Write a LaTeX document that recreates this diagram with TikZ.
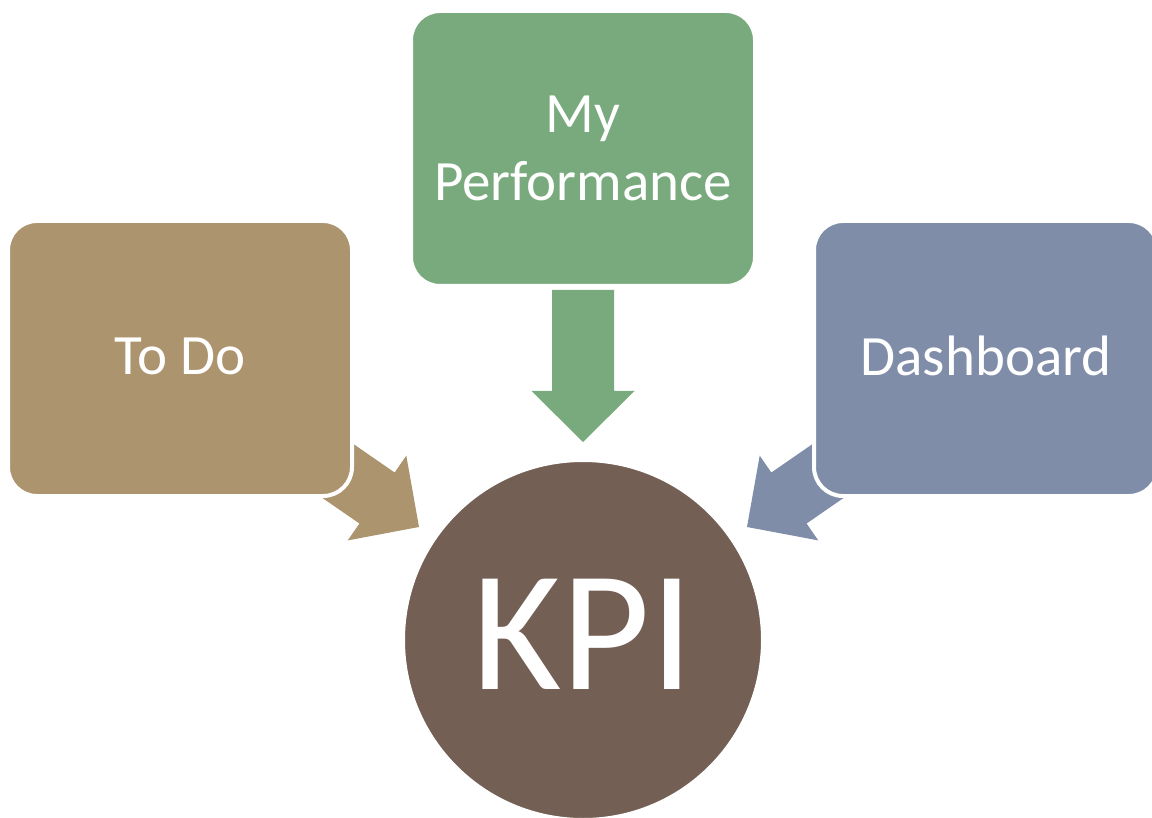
\documentclass[tikz,border=0pt]{standalone}
\usepackage{fontspec}
\setmainfont{Carlito}
\usetikzlibrary{calc}
\definecolor{todoc}{HTML}{AC946E}
\definecolor{perfc}{HTML}{79AA7D}
\definecolor{dashc}{HTML}{7F8DA9}
\definecolor{kpic}{HTML}{735F54}
% block arrow: colour, tail coordinate, tip coordinate
\newcommand\blockarr[3]{%
  \coordinate (#2-h) at ($(#3)!51pt!(#2)$);
  \fill[#1] ($(#2)!31pt!90:(#3)$) -- ($(#2-h)!31pt!90:(#3)$)
    -- ($(#2-h)!51.5pt!90:(#3)$) -- (#3)
    -- ($(#2-h)!51.5pt!-90:(#3)$) -- ($(#2-h)!31pt!-90:(#3)$)
    -- ($(#2)!31pt!-90:(#3)$) -- cycle;}
\tikzset{
  box/.style={rectangle, rounded corners=29pt, draw=white, line width=4pt,
    minimum width=344pt, minimum height=275pt, inner sep=0pt, align=center,
    text=white, font=\fontsize{57}{68}\selectfont},
  kpibox/.style={circle, draw=white, line width=4pt, minimum size=360pt,
    inner sep=0pt, fill=kpic, text=white, font=\fontsize{172}{180}\selectfont}
}
\begin{document}
\begin{tikzpicture}[x=1pt,y=-1pt]
\useasboundingbox (0,0) rectangle (1152,818);
\clip (0,0) rectangle (1152,818);
% arrow end points
\coordinate (ta) at (293.9,440.6);
\coordinate (tt) at (419,527);
\coordinate (pa) at (583,290);
\coordinate (pt) at (583,442);
\coordinate (da) at (872.1,440.6);
\coordinate (dt) at (747,527);
\blockarr{todoc}{ta}{tt}
\blockarr{perfc}{pa}{pt}
\blockarr{dashc}{da}{dt}
% boxes
\node[box, fill=todoc] (todo) at (180,358.5) {\raisebox{2.5pt}[\height][\depth]{To Do}};
\node[box, fill=perfc] (perf) at (583,148.5) {My\\Performance};
\node[box, fill=dashc] (dash) at (986,358.5) {\raisebox{2.5pt}[\height][\depth]{Dashboard}};
% centre
\node[kpibox] (kpi) at (583,640) {\raisebox{5.5pt}[\height][\depth]{KPI}};
\end{tikzpicture}
\end{document}
